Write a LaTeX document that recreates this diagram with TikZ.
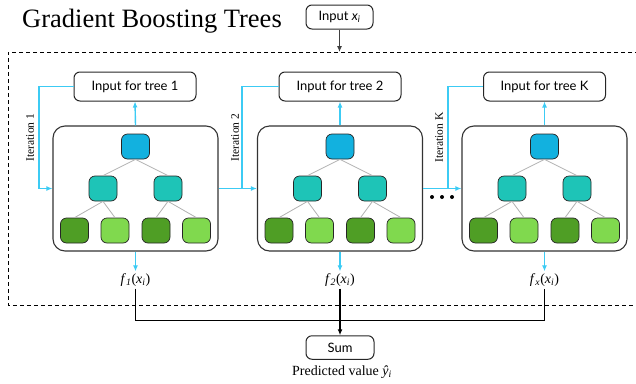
\documentclass[tikz,border=0pt]{standalone}
\usepackage{fontspec}
\setmainfont{Liberation Serif}
\newfontfamily\boxfont{Lato}
\usetikzlibrary{arrows.meta}
\definecolor{rootc}{HTML}{12B1DF}
\definecolor{midc}{HTML}{1EC4B7}
\definecolor{leafd}{HTML}{4F9E25}
\definecolor{leafl}{HTML}{80D94E}
\definecolor{cyanline}{HTML}{3CCBF4}
\newcommand{\fxi}[1]{\textit{f}\textsubscript{\textit{#1}}(\textit{x}\textsubscript{\textit{i}})}
\newcommand{\mytree}[2]{%
  \node[tbox] (#1) at (#2,188.5) {};
  \node[tn,fill=rootc] (#1r) at (#2,146.5) {};
  \node[tn,fill=midc] (#1ma) at (#2-32.5,188.5) {};
  \node[tn,fill=midc] (#1mb) at (#2+32.5,188.5) {};
  \node[tn,fill=leafd] (#1la) at (#2-61,230.5) {};
  \node[tn,fill=leafl] (#1lb) at (#2-20.5,230.5) {};
  \node[tn,fill=leafd] (#1lc) at (#2+20.5,230.5) {};
  \node[tn,fill=leafl] (#1ld) at (#2+61,230.5) {};
  \draw[treeedge] (#1r.south) -- (#1ma.north);
  \draw[treeedge] (#1r.south) -- (#1mb.north);
  \draw[treeedge] (#1ma.south) -- (#1la.north);
  \draw[treeedge] (#1ma.south) -- (#1lb.north);
  \draw[treeedge] (#1mb.south) -- (#1lc.north);
  \draw[treeedge] (#1mb.south) -- (#1ld.north);
}
\begin{document}
\begin{tikzpicture}[x=1pt,y=-1pt,
  tbox/.style={draw=black!80, line width=1.1pt, rounded corners=12pt, minimum width=165pt, minimum height=125pt, fill=white, inner sep=0},
  tn/.style={draw=black!85, line width=0.7pt, rounded corners=6pt, minimum width=28pt, minimum height=25pt, inner sep=0},
  inbox/.style={draw=black!85, line width=1pt, rounded corners=6pt, minimum width=122pt, minimum height=29pt, inner sep=0, font=\boxfont\fontsize{13}{15}\selectfont},
  smallbox/.style={draw=black!85, line width=1pt, rounded corners=6pt, minimum height=23.5pt, inner sep=0, font=\boxfont\fontsize{13}{15}\selectfont},
  treeedge/.style={draw=black!30, line width=0.8pt},
  blueline/.style={draw=cyanline, line width=1.4pt},
  bluearrow/.style={blueline, -{Latex[length=6pt,width=5pt]}},
  blackline/.style={draw=black, line width=0.9pt},
  itlabel/.style={rotate=90, font=\fontsize{11.5}{13}\selectfont, inner sep=0},
  flabel/.style={font=\fontsize{14}{16}\selectfont, inner sep=2pt}
]
\useasboundingbox (0,0) rectangle (636,383);
% title
\node[anchor=base west, inner sep=0, font=\fontsize{26.5}{30}\selectfont] (title) at (22,27) {Gradient Boosting Trees};
% input x_i
\node[smallbox, minimum width=67pt, minimum height=24pt] (inx) at (339.5,17) {Input \textit{x}\textsubscript{\textit{i}}};
% dashed frame
\draw[dashed, dash pattern=on 4pt off 3pt, line width=0.8pt] (660,52) -- (8,52) -- (8,305) -- (660,305);
\coordinate (frametop) at (339.5,52);
\draw[draw=black!75, line width=1pt, -{Latex[length=6pt,width=5pt]}] (inx.south) -- (frametop);
% trees
\mytree{b1}{135.5}
\mytree{b2}{340}
\mytree{bK}{544.5}
% input boxes
\node[inbox] (in1) at (135,86.5) {Input for tree 1};
\node[inbox] (in2) at (340,86.5) {Input for tree 2};
\node[inbox] (inK) at (544.5,86.5) {Input for tree K};
% up arrows
\draw[bluearrow] (b1.north) -- (in1.south);
\draw[bluearrow] (b2.north) -- (in2.south);
\draw[bluearrow] (bK.north) -- (inK.south);
% iteration feedback
\coordinate (j1) at (39,188.5);
\draw[bluearrow] (in1.west) -| (j1) -- (b1.west);
\coordinate (j2) at (242,188.5);
\draw[blueline] (b1.east) -- (j2);
\draw[bluearrow] (in2.west) -| (j2) -- (b2.west);
\coordinate (jKs) at (423,188.5);
\coordinate (jK) at (448,188.5);
\draw[blueline] (jKs) -- (jK);
\draw[bluearrow] (inK.west) -| (jK) -- (bK.west);
\node[itlabel] (it1) at (30,137.5) {Iteration 1};
\node[itlabel] (it2) at (235,137.5) {Iteration 2};
\node[itlabel] (itK) at (439,137.5) {Iteration K};
% dots
\foreach \dx [count=\i] in {432,442,452} {
  \fill (\dx,197) circle (2pt) coordinate (dot\i);
}
% outputs
\node[flabel] (f1) at (135.5,280) {\fxi{1}};
\node[flabel] (f2) at (340,280) {\fxi{2}};
\node[flabel] (fK) at (544.5,280) {\fxi{x}};
\draw[bluearrow] (b1.south) -- (f1.north);
\draw[bluearrow] (b2.south) -- (f2.north);
\draw[bluearrow] (bK.south) -- (fK.north);
% sum
\node[smallbox, minimum width=68pt] (sum) at (340,347.5) {Sum};
\coordinate (h1) at (135.5,320);
\draw[blackline] (f1.south) -- (h1) -| (fK.south);
\draw[draw=black, line width=1.8pt, -{Latex[length=6pt,width=5pt]}] (f2.south) -- (sum.north);
\node[font=\fontsize{14}{16}\selectfont, inner sep=0] (pred) at (342,372) {Predicted value \textit{ŷ}\textsubscript{\textit{i}}};
\end{tikzpicture}
\end{document}
